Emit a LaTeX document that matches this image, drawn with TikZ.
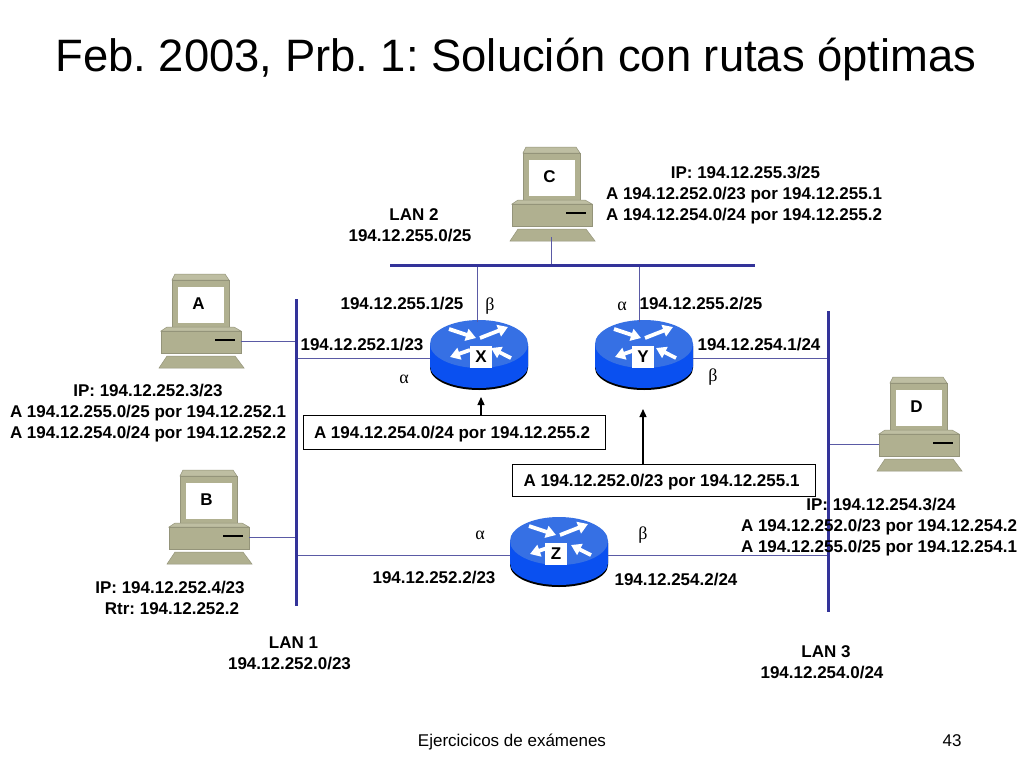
\documentclass[tikz,border=0pt]{standalone}
\usepackage{fontspec}
\setmainfont{Liberation Sans}
\newfontfamily\greekfont{Liberation Serif}
\usetikzlibrary{arrows.meta}
\definecolor{pcbody}{HTML}{B0B090}
\definecolor{pcdark}{HTML}{94947A}
\definecolor{pclight}{HTML}{BEBEA2}
\definecolor{navy}{HTML}{333399}
\definecolor{linkblue}{HTML}{5A5AA5}
\definecolor{rtop}{HTML}{3670E4}
\definecolor{rside}{HTML}{0A50F0}
\tikzset{
 x=1pt,y=-1pt,
 lbl/.style={font=\fontsize{17}{21}\selectfont\bfseries,align=center,inner sep=0pt,text=black},
 rlabel/.style={lbl,fill=white,minimum width=22pt,minimum height=22pt},
 greek/.style={font=\fontsize{18}{20}\selectfont\greekfont,inner sep=0pt},
 bar/.style={navy,line width=3pt},
 link/.style={linkblue,line width=1pt},
 note/.style={lbl,draw=black,line width=.8pt,fill=white,inner sep=0pt,minimum height=34pt},
 up/.style={black,line width=1.2pt,-{Triangle[width=7pt,length=8pt]}},
 rarrow/.style={white,line width=3.8pt,-{Triangle[width=12pt,length=10pt]}},
 computer/.pic={
  \fill[pclight,draw=pcdark,line width=.5pt] (-25,-46)--(25,-46)--(29,-40)--(-28,-40)--cycle;
  \fill[pcbody,draw=pcdark,line width=.5pt] (-28,-40) rectangle (29,10);
  \fill[pclight,draw=pcdark,line width=.5pt] (-33,7)--(34,7)--(41,11)--(-39,11)--cycle;
  \fill[pcbody,draw=pcdark,line width=.5pt] (-39,11) rectangle (41,33);
  \fill[white] (-22.5,-33) rectangle (24,3);
  \draw[black,line width=1.2pt] (15,20)--(35,20);
  \fill[pcbody,draw=pcdark,line width=.5pt] (-33,36)--(35,36)--(44,48)--(-41,48)--cycle;
  \node[lbl] (-label) at (-1.5,-16) {#1};
  \coordinate (-port) at (41,21);
  \coordinate (-left) at (-39,21);
  \coordinate (-foot) at (0,44);
 },
 router/.pic={
  \fill[black] (-49,2) -- (-49,24) arc[start angle=180,end angle=0,x radius=49,y radius=22] -- (49,2) -- cycle;
  \fill[rside] (-49,0) -- (-49,22) arc[start angle=180,end angle=0,x radius=49,y radius=22] -- (49,0) -- cycle;
  \fill[rtop] (0,0) ellipse[x radius=49,y radius=24];
  \draw[rarrow] (-30,-15)--(-3,-6);
  \draw[rarrow] (1,-6)--(29,-17);
  \draw[rarrow] (-9,6)--(-29,13);
  \draw[rarrow] (32,14)--(12,4);
  \coordinate (-west) at (-49,14);
  \coordinate (-east) at (49,14);
  \coordinate (-north) at (-2,-22);
 },
}
\begin{document}
\begin{tikzpicture}
\frenchspacing
\useasboundingbox (0,0) rectangle (1024,768);
\fill[white] (0,0) rectangle (1024,768);

\coordinate (lan1a) at (296,299);
\coordinate (lan1b) at (296,606);
\coordinate (lan2a) at (390,265);
\coordinate (lan2b) at (755,265);
\coordinate (lan3a) at (828,311);
\coordinate (lan3b) at (828,612);

\pic (A) at (200,320) {computer=A};
\pic (B) at (208,516) {computer=B};
\pic (C) at (551,193) {computer=C};
\pic (D) at (918,423) {computer=D};

\draw[link] (A-port) -- (A-port -| lan1a);
\draw[link] (B-port) -- (B-port -| lan1a);
\draw[link] (D-left) -- (D-left -| lan3a);
\draw[link] (C-foot) -- (C-foot |- lan2a);

\pic (X) at (479,344) {router};
\pic (Y) at (644,344) {router};
\pic (Z) at (559,541) {router};
\node[rlabel] (Xl) at (481,357) {X};
\node[rlabel] (Yl) at (643,357) {Y};
\node[rlabel] (Zl) at (556,554) {Z};

\draw[link] (X-north) -- (X-north |- lan2a);
\draw[link] (Y-north) ++(-3,0) coordinate (Yn) -- (Yn |- lan2a);
\draw[link] (X-west) -- (X-west -| lan1a);
\draw[link] (Y-east) -- (Y-east -| lan3a);
\draw[link] (Z-west) -- (Z-west -| lan1a);
\draw[link] (Z-east) -- (Z-east -| lan3a);

\draw[bar] (lan1a) -- (lan1b);
\draw[bar] (lan2a) -- (lan2b);
\draw[bar] (lan3a) -- (lan3b);

\node[note,minimum width=302pt] (noteX) at (454,432.5) {\kern-4pt\raisebox{-6pt}[0pt][0pt]{A 194.12.254.0/24 por 194.12.255.2}};
\node[note,minimum width=303pt,minimum height=32pt] (noteY) at (663.5,480) {\kern-4pt\raisebox{-6pt}[0pt][0pt]{A 194.12.252.0/23 por 194.12.255.1}};
\coordinate (arrX) at (481,397);
\coordinate (arrY) at (643,409);
\draw[up] (arrX |- noteX.north) -- (arrX);
\draw[up] (arrY |- noteY.north) -- (arrY);

\node[font=\fontsize{45.4}{50}\selectfont,inner sep=0pt] (title) at (516,59) {Feb. 2003, Prb. 1: Solución con rutas óptimas};

\node[lbl] (lan2t) at (410,225) {\hspace*{8pt}LAN 2\\194.12.255.0/25};
\node[lbl] (ipC) at (744,195.5) {\hspace*{3pt}IP: 194.12.255.3/25\\A 194.12.252.0/23 por 194.12.255.1\\A 194.12.254.0/24 por 194.12.255.2};
\node[lbl] (ipA) at (148,413) {IP: 194.12.252.3/23\\A 194.12.255.0/25 por 194.12.252.1\\A 194.12.254.0/24 por 194.12.252.2};
\node[lbl] (ipB) at (170,598) {IP: 194.12.252.4/23\\\hspace*{4pt}Rtr: 194.12.252.2};
\node[lbl] (ipD) at (879,527) {\hspace*{4pt}IP: 194.12.254.3/24\\A 194.12.252.0/23 por 194.12.254.2\\A 194.12.255.0/25 por 194.12.254.1};
\node[lbl] (lan1t) at (289.5,653) {\hspace*{8pt}LAN 1\\194.12.252.0/23};
\node[lbl] (lan3t) at (822,662) {\hspace*{8pt}LAN 3\\194.12.254.0/24};

\node[lbl] (xn) at (402,304) {194.12.255.1/25};
\node[lbl] (xw) at (362,345) {194.12.252.1/23};
\node[lbl] (yn) at (701,304) {194.12.255.2/25};
\node[lbl] (ye) at (759,345) {194.12.254.1/24};
\node[lbl] (zw) at (434,578) {194.12.252.2/23};
\node[lbl] (ze) at (676,580) {194.12.254.2/24};

\node[greek] (xb) at (490,306) {β};
\node[greek] (xa) at (404,379) {α};
\node[greek] (ya) at (622,306) {α};
\node[greek] (yb) at (713,377) {β};
\node[greek] (za) at (480,535) {α};
\node[greek] (zb) at (643,535) {β};

\node[font=\fontsize{17}{20}\selectfont,inner sep=0pt] (foot) at (512,742) {Ejercicicos de exámenes};
\node[font=\fontsize{17}{20}\selectfont,inner sep=0pt] (page) at (952,741) {43};
\end{tikzpicture}
\end{document}
